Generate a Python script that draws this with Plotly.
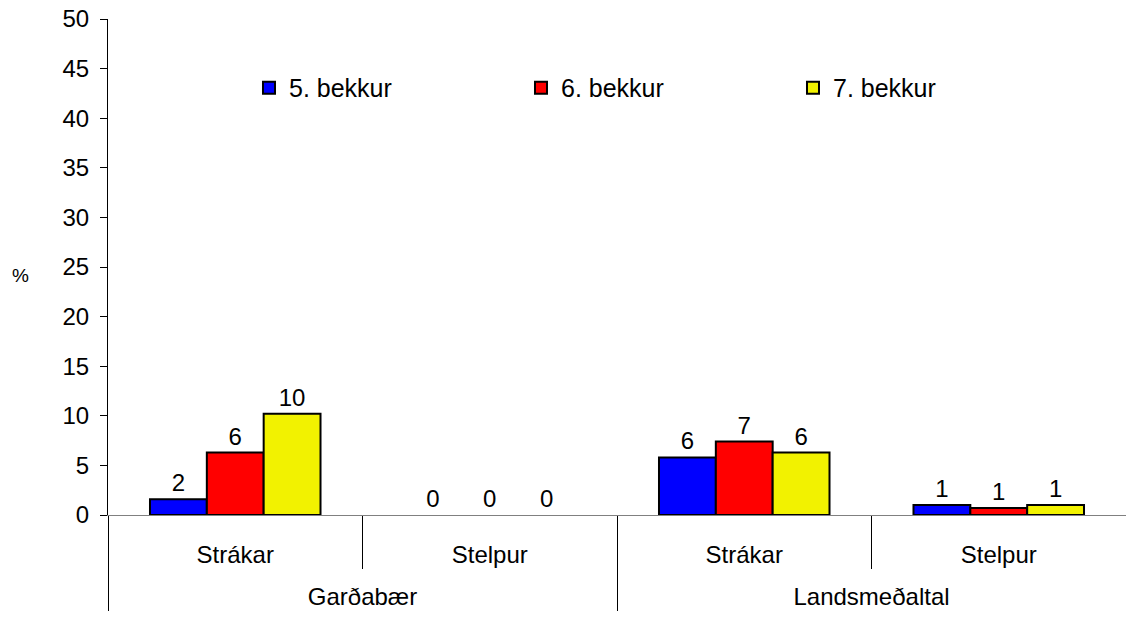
import plotly.graph_objects as go

# outer level gets an empty first line so it sits lower, as in the original
groups = ["<br>Garðabær", "<br>Garðabær", "<br>Landsmeðaltal", "<br>Landsmeðaltal"]
genders = ["Strákar", "Stelpur", "Strákar", "Stelpur"]

series_names = ["5. bekkur", "6. bekkur", "7. bekkur"]
values_5 = [1.6, 0, 5.8, 1.0]
values_6 = [6.3, 0, 7.4, 0.7]
values_7 = [10.2, 0, 6.3, 1.0]
labels_5 = ["2", "0", "6", "1"]
labels_6 = ["6", "0", "7", "1"]
labels_7 = ["10", "0", "6", "1"]

colors = ["#0000FF", "#FF0000", "#F2F200"]
font = "Liberation Sans, Arial, sans-serif"

fig = go.Figure()
for name, vals, labs, col in zip(series_names,
                                 [values_5, values_6, values_7],
                                 [labels_5, labels_6, labels_7],
                                 colors):
    fig.add_trace(go.Bar(
        x=[groups, genders],
        y=vals,
        name=name,
        text=labs,
        textposition="outside",
        textfont=dict(size=24, color="black", family=font),
        cliponaxis=False,
        # no outline on empty bars
        marker=dict(color=col, line=dict(color="black",
                                         width=[2 if v > 0 else 0 for v in vals])),
    ))

fig.update_layout(
    width=1126, height=621,
    paper_bgcolor="white", plot_bgcolor="white",
    margin=dict(l=108, r=0, t=19, b=106),
    barmode="group", bargap=0.33, bargroupgap=0,
    font=dict(family=font, size=24, color="black"),
    showlegend=True,
    legend=dict(orientation="h", x=0.1385, y=0.861, xanchor="left", yanchor="middle",
                entrywidth=227, font=dict(size=25), bgcolor="rgba(0,0,0,0)",
                itemwidth=30, tracegroupgap=0),
)

fig.update_yaxes(
    range=[0, 50], dtick=5, showgrid=False, zeroline=False,
    showline=True, linecolor="black", linewidth=1,
    ticks="outside", ticklen=7, tickcolor="black",
    ticklabelstandoff=6,
    tickfont=dict(size=24),
)
fig.update_xaxes(
    type="multicategory", showgrid=False, showline=True,
    linecolor="#808080", linewidth=1,
    ticks="outside", tickson="boundaries", ticklen=53, tickcolor="black",
    showdividers=True, dividercolor="black", dividerwidth=1,
    ticklabelstandoff=18,
    tickfont=dict(size=24),
)

fig.add_annotation(text="%", xref="paper", yref="paper", x=-0.0855, y=0.482,
                   xanchor="center", yanchor="middle",
                   showarrow=False, font=dict(size=19))

# drop the default 8px page margin so the figure fills the window
fig.write_html("out.html", config={"displayModeBar": False},
               post_script="document.body.style.margin='0px';")
